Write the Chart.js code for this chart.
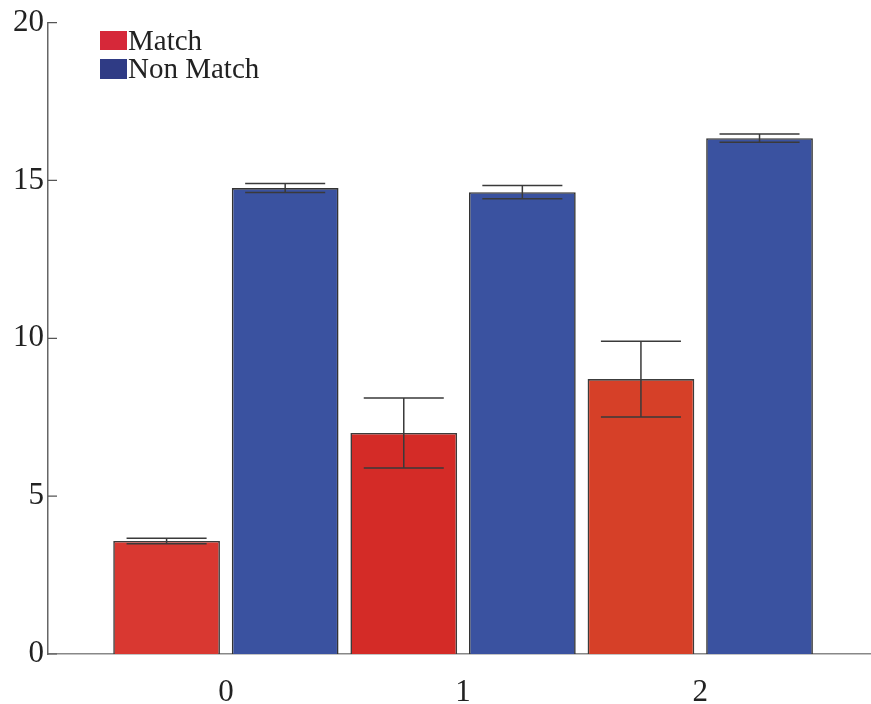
<!DOCTYPE html>
<html>
<head>
<meta charset="utf-8">
<script src="https://cdn.jsdelivr.net/npm/chart.js@4"></script>
<style>
  html, body { margin: 0; padding: 0; background: #ffffff; }
  #wrap { width: 871px; height: 704px; }
</style>
</head>
<body>
<div id="wrap"><canvas id="c" width="871" height="704"></canvas></div>
<script>
const categories = [0, 1, 2];
const seriesNames = ['Match', 'Non Match'];
const matchValues = [3.58, 7.00, 8.71];
const matchErrors = [0.09, 1.11, 1.20];
const nonMatchValues = [14.76, 14.63, 16.34];
const nonMatchErrors = [0.14, 0.21, 0.13];
const yTicks = [0, 5, 10, 15, 20];

const matchColors = ['#D93831', '#D42B27', '#D64028'];
const nonMatchColor = '#3A52A0';
const legendColors = ['#D62839', '#2F3B85'];
const serif = "'Liberation Serif', 'DejaVu Serif', serif";

const errorBarPlugin = {
  id: 'errorBars',
  afterDatasetsDraw(chart) {
    const ctx = chart.ctx;
    const yScale = chart.scales.y;
    chart.data.datasets.forEach((ds, di) => {
      const meta = chart.getDatasetMeta(di);
      meta.data.forEach((bar, i) => {
        const v = ds.data[i].y;
        const e = ds.errors[i];
        const yTop = yScale.getPixelForValue(v + e);
        const yBot = yScale.getPixelForValue(v - e);
        const half = bar.width * 0.375;
        ctx.save();
        ctx.strokeStyle = '#3a3a3a';
        ctx.lineWidth = 1.5;
        ctx.beginPath();
        ctx.moveTo(bar.x, yTop); ctx.lineTo(bar.x, yBot);
        ctx.moveTo(bar.x - half, yTop); ctx.lineTo(bar.x + half, yTop);
        ctx.moveTo(bar.x - half, yBot); ctx.lineTo(bar.x + half, yBot);
        ctx.stroke();
        ctx.restore();
      });
    });
  }
};

const innerTicksPlugin = {
  id: 'innerTicks',
  afterDraw(chart) {
    const ctx = chart.ctx;
    const yScale = chart.scales.y;
    const x0 = chart.chartArea.left;
    ctx.save();
    ctx.strokeStyle = '#555555';
    ctx.lineWidth = 1.2;
    ctx.beginPath();
    yTicks.forEach(t => {
      const y = yScale.getPixelForValue(t);
      ctx.moveTo(x0, y); ctx.lineTo(x0 + 9, y);
    });
    ctx.stroke();
    ctx.restore();
  }
};

const legendPlugin = {
  id: 'customLegend',
  afterDraw(chart) {
    const ctx = chart.ctx;
    ctx.save();
    ctx.font = "29px " + serif;
    ctx.textBaseline = 'alphabetic';
    const rows = [{ y: 31, h: 19, base: 50 }, { y: 59, h: 20, base: 78 }];
    seriesNames.forEach((name, i) => {
      ctx.fillStyle = legendColors[i];
      ctx.fillRect(100, rows[i].y, 27, rows[i].h);
      ctx.fillStyle = '#222222';
      ctx.fillText(name, 128, rows[i].base);
    });
    ctx.restore();
  }
};

new Chart(document.getElementById('c'), {
  type: 'bar',
  data: {
    datasets: [
      {
        label: seriesNames[0],
        data: categories.map((c, i) => ({ x: c, y: matchValues[i] })),
        errors: matchErrors,
        backgroundColor: matchColors,
        borderColor: '#3c3c3c',
        borderWidth: 1.6
      },
      {
        label: seriesNames[1],
        data: categories.map((c, i) => ({ x: c, y: nonMatchValues[i] })),
        errors: nonMatchErrors,
        backgroundColor: nonMatchColor,
        borderColor: '#333333',
        borderWidth: 1.6
      }
    ]
  },
  options: {
    responsive: false,
    animation: false,
    devicePixelRatio: 1,
    layout: { padding: { top: 21, right: 0, left: 0, bottom: 0 } },
    datasets: { bar: { categoryPercentage: 1.0, barPercentage: 0.9 } },
    plugins: {
      legend: { display: false },
      tooltip: { enabled: false }
    },
    scales: {
      x: {
        type: 'linear',
        offset: false,
        min: -0.75,
        max: 2.72,
        afterBuildTicks(scale) { scale.ticks = categories.map(v => ({ value: v })); },
        afterFit(scale) { scale.height = 50; },
        grid: { display: false, drawTicks: false, offset: false },
        border: { display: true, color: '#888888', width: 1.5 },
        ticks: {
          font: { family: serif, size: 31 },
          color: '#222222',
          padding: 20,
          maxRotation: 0,
          callback: v => String(v)
        }
      },
      y: {
        min: 0,
        max: 20,
        afterBuildTicks(scale) { scale.ticks = yTicks.map(v => ({ value: v })); },
        afterFit(scale) { scale.width = 48; },
        grid: { display: false, drawTicks: false },
        border: { display: true, color: '#666666', width: 1.5 },
        ticks: {
          font: { family: serif, size: 31 },
          color: '#222222',
          padding: 4
        }
      }
    }
  },
  plugins: [errorBarPlugin, innerTicksPlugin, legendPlugin]
});
</script>
</body>
</html>
